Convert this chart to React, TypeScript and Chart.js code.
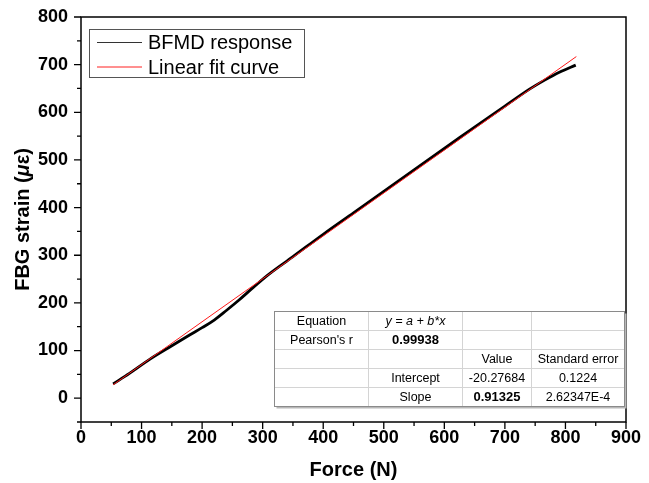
import React, { useEffect, useRef } from "react";
import { Chart, registerables } from "chart.js";

Chart.register(...registerables);

// ---- data ----
const forceN = [53, 80, 114, 150, 180, 200, 220, 240, 260, 285, 310, 350, 400, 450, 500, 550, 600, 650, 700, 740, 765, 790, 817];
const strainBFMD = [30, 52, 82, 110, 133, 148, 164, 184, 205, 233, 260, 297, 344, 389, 434, 479, 524, 569, 613, 648, 667, 684, 699];
const fitForce = [53, 818];
const fitStrain = [28, 717];

const legendLabels = ["BFMD response", "Linear fit curve"];
const tableRows: string[][] = [
  ["Equation", "y = a + b*x", "", ""],
  ["Pearson's r", "0.99938", "", ""],
  ["", "", "Value", "Standard error"],
  ["", "Intercept", "-20.27684", "0.1224"],
  ["", "Slope", "0.91325", "2.62347E-4"],
];
const boldCells = ["0.99938", "0.91325"];
const italicCells = ["y = a + b*x"];

const FONT = "'Liberation Sans', Arial, Helvetica, sans-serif";

const decorPlugin = {
  id: "decor",
  afterDraw(chart: any) {
    const { ctx, chartArea, scales } = chart;
    const { left, right, top, bottom } = chartArea;
    const xs = scales.x;
    const ys = scales.y;
    ctx.save();
    // frame
    ctx.strokeStyle = "#000";
    ctx.lineWidth = 1.5;
    ctx.strokeRect(left, top, right - left, bottom - top);
    // ticks
    ctx.lineWidth = 1.3;
    ctx.beginPath();
    xs.ticks.forEach((t: any) => {
      const px = xs.getPixelForValue(t.value);
      const len = t.value % 100 === 0 ? 7 : 4;
      ctx.moveTo(px, bottom);
      ctx.lineTo(px, bottom + len);
    });
    ys.ticks.forEach((t: any) => {
      const py = ys.getPixelForValue(t.value);
      const len = t.value % 100 === 0 ? 7 : 4;
      ctx.moveTo(left, py);
      ctx.lineTo(left - len, py);
    });
    ctx.stroke();

    // y title with italic mu
    const cy = (top + bottom) / 2;
    const parts = [
      { t: "FBG strain (", f: `bold 20px ${FONT}` },
      { t: "\u03bc", f: `italic bold 20px ${FONT}` },
      { t: "\u03b5", f: `bold 20px ${FONT}` },
      { t: ")", f: `bold 20px ${FONT}` },
    ];
    let total = 0;
    parts.forEach((p) => {
      ctx.font = p.f;
      total += ctx.measureText(p.t).width;
    });
    ctx.translate(23, cy);
    ctx.rotate(-Math.PI / 2);
    ctx.fillStyle = "#000";
    ctx.textBaseline = "middle";
    ctx.textAlign = "left";
    let cx = -total / 2;
    parts.forEach((p) => {
      ctx.font = p.f;
      ctx.fillText(p.t, cx, 0);
      cx += ctx.measureText(p.t).width;
    });
    ctx.setTransform(1, 0, 0, 1, 0, 0);

    // legend
    ctx.fillStyle = "#fff";
    ctx.fillRect(89.5, 29.5, 215, 48);
    ctx.strokeStyle = "#555";
    ctx.lineWidth = 1;
    ctx.strokeRect(89.5, 29.5, 215, 48);
    const legendColors = ["#333", "#ff2020"];
    const legendY = [42, 66.5];
    legendLabels.forEach((lab, i) => {
      ctx.strokeStyle = legendColors[i];
      ctx.lineWidth = 1;
      ctx.beginPath();
      ctx.moveTo(97, legendY[i] + 0.5);
      ctx.lineTo(142, legendY[i] + 0.5);
      ctx.stroke();
      ctx.fillStyle = "#000";
      ctx.font = `20px ${FONT}`;
      ctx.textBaseline = "alphabetic";
      ctx.textAlign = "left";
      ctx.fillText(lab, 148, legendY[i] + 7);
    });

    // table
    const colX = [274.5, 368.5, 462.5, 531.5, 624.5];
    const rowY = [311.5, 330.5, 349.5, 368.5, 387.5, 406.5];
    ctx.fillStyle = "#b8b8b8";
    ctx.fillRect(colX[0] + 2, rowY[0] + 2, colX[4] - colX[0], rowY[5] - rowY[0]);
    ctx.fillStyle = "#fff";
    ctx.fillRect(colX[0], rowY[0], colX[4] - colX[0], rowY[5] - rowY[0]);
    ctx.strokeStyle = "#d4d4d4";
    ctx.lineWidth = 1;
    ctx.beginPath();
    for (let i = 1; i < rowY.length - 1; i++) {
      ctx.moveTo(colX[0], rowY[i]);
      ctx.lineTo(colX[4], rowY[i]);
    }
    for (let j = 1; j < colX.length - 1; j++) {
      ctx.moveTo(colX[j], rowY[0]);
      ctx.lineTo(colX[j], rowY[5]);
    }
    ctx.stroke();
    ctx.strokeStyle = "#8a8a8a";
    ctx.strokeRect(colX[0], rowY[0], colX[4] - colX[0], rowY[5] - rowY[0]);
    ctx.fillStyle = "#000";
    ctx.textAlign = "center";
    ctx.textBaseline = "middle";
    tableRows.forEach((row, r) => {
      row.forEach((cell, c) => {
        if (!cell) return;
        let f = `12.5px ${FONT}`;
        if (boldCells.includes(cell)) f = `bold 13px ${FONT}`;
        if (italicCells.includes(cell)) f = `italic 12.5px ${FONT}`;
        ctx.font = f;
        ctx.fillText(cell, (colX[c] + colX[c + 1]) / 2, (rowY[r] + rowY[r + 1]) / 2 + 0.5);
      });
    });
    ctx.restore();
  },
};

export default function App() {
  const ref = useRef<HTMLCanvasElement | null>(null);
  useEffect(() => {
    document.body.style.margin = "0";
    if (!ref.current) return;
    const tickFont = { family: FONT, size: 18, weight: "bold" as const, lineHeight: 1 };
    const chart = new Chart(ref.current, {
      type: "line",
      data: {
        datasets: [
          {
            label: legendLabels[0],
            data: forceN.map((f, i) => ({ x: f, y: strainBFMD[i] })),
            borderColor: "#000",
            borderWidth: 2.8,
            pointRadius: 0,
            tension: 0.35,
            order: 1,
          },
          {
            label: legendLabels[1],
            data: fitForce.map((f, i) => ({ x: f, y: fitStrain[i] })),
            borderColor: "#ff1a1a",
            borderWidth: 1,
            pointRadius: 0,
            order: 0,
          },
        ],
      },
      options: {
        responsive: false,
        animation: false,
        maintainAspectRatio: false,
        layout: { padding: { left: 0, top: 17, right: 23, bottom: 0 } },
        plugins: { legend: { display: false }, tooltip: { enabled: false } },
        scales: {
          x: {
            type: "linear",
            min: 0,
            max: 900,
            afterFit: (s: any) => {
              s.height = 61;
            },
            grid: { display: false, drawTicks: true, tickLength: 7 },
            border: { display: false },
            ticks: {
              stepSize: 50,
              autoSkip: false,
              maxRotation: 0,
              padding: 0,
              color: "#000",
              font: tickFont,
              callback: (v: any) => (Number(v) % 100 === 0 ? String(v) : ""),
            },
            title: {
              display: true,
              text: "Force (N)",
              color: "#000",
              font: { family: FONT, size: 20, weight: "bold" },
              padding: { top: 0, bottom: 1 },
            },
          },
          y: {
            type: "linear",
            min: -50,
            max: 800,
            afterFit: (s: any) => {
              s.width = 81;
            },
            grid: { display: false, drawTicks: true, tickLength: 7 },
            border: { display: false },
            ticks: {
              stepSize: 50,
              autoSkip: false,
              padding: 6,
              color: "#000",
              font: tickFont,
              callback: (v: any) => (Number(v) % 100 === 0 ? String(v) : ""),
            },
            title: { display: false },
          },
        },
      },
      plugins: [decorPlugin],
    } as any);
    return () => chart.destroy();
  }, []);
  return (
    <div style={{ width: 649, height: 483, background: "#fff" }}>
      <canvas ref={ref} width={649} height={483} style={{ display: "block" }} />
    </div>
  );
}
